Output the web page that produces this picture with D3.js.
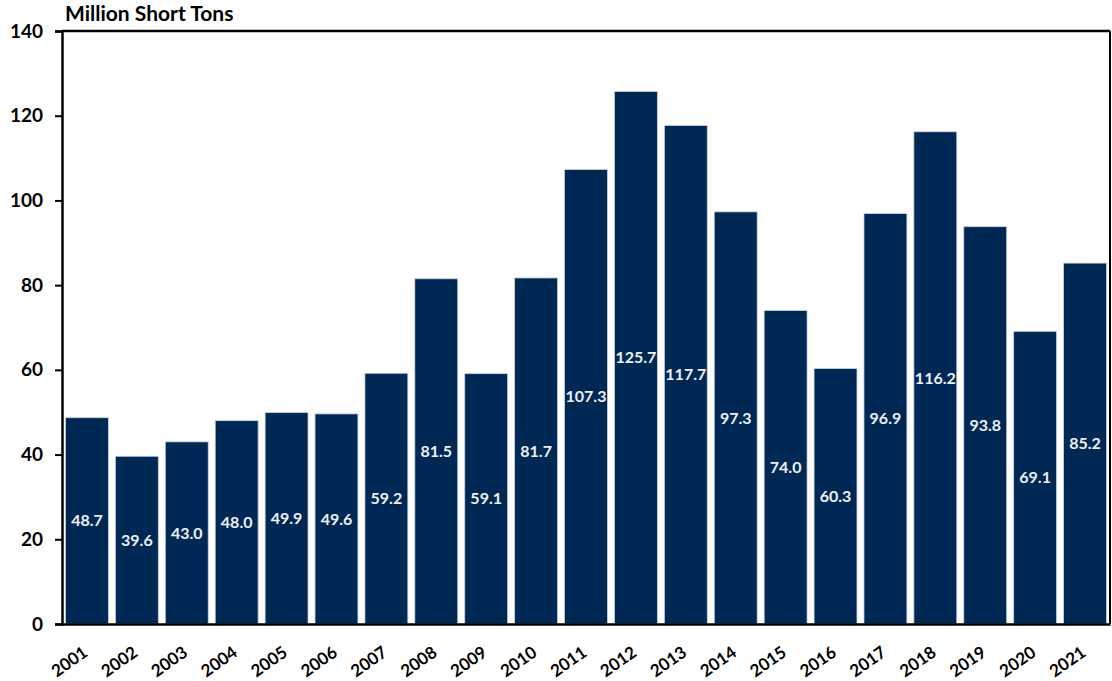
<!DOCTYPE html>
<html>
<head>
<meta charset="utf-8">
<script src="https://cdn.jsdelivr.net/npm/d3@7"></script>
<style>
  body { margin: 0; background: #fff; }
  text { font-family: Lato, "Open Sans", sans-serif; font-weight: bold; }
</style>
</head>
<body>
<div id="chart"></div>
<script>
// Data
const years = ["2001","2002","2003","2004","2005","2006","2007","2008","2009","2010","2011",
               "2012","2013","2014","2015","2016","2017","2018","2019","2020","2021"];
const values = [48.7, 39.6, 43.0, 48.0, 49.9, 49.6, 59.2, 81.5, 59.1, 81.7, 107.3,
                125.7, 117.7, 97.3, 74.0, 60.3, 96.9, 116.2, 93.8, 69.1, 85.2];
const yTicks = [0, 20, 40, 60, 80, 100, 120, 140];

const width = 1112, height = 681;
const margin = {top: 31, right: 2, bottom: 57, left: 62};
const chartWidth = width - margin.left - margin.right;
const chartHeight = height - margin.top - margin.bottom;

let svg = d3.select("#chart")
    .append("svg")
    .attr("width", width)
    .attr("height", height)
    .append("g")
    .attr("transform", "translate(" + margin.left + "," + margin.top + ")");

let x = d3.scaleBand()
    .domain(years)
    .range([0, chartWidth])
    .paddingInner(0.14)
    .paddingOuter(0.07);

let y = d3.scaleLinear()
    .domain([0, 140])
    .range([chartHeight, 0]);

// bars
svg.selectAll(".bar")
    .data(values)
    .enter()
    .append("rect")
    .attr("class", "bar")
    .attr("x", (d, i) => x(years[i]))
    .attr("y", d => y(d))
    .attr("width", x.bandwidth())
    .attr("height", d => chartHeight - y(d))
    .attr("fill", "#002855")
    .attr("stroke", "#c9d1dc")
    .attr("stroke-width", 0.8);

// value labels in middle of bar
svg.selectAll(".val")
    .data(values)
    .enter()
    .append("text")
    .attr("x", (d, i) => x(years[i]) + x.bandwidth() / 2)
    .attr("y", d => (y(d) + chartHeight) / 2)
    .attr("dy", "0.35em")
    .attr("text-anchor", "middle")
    .attr("fill", "#eef0f4")
    .style("font-size", "16px")
    .text(d => d.toFixed(1));

// frame top + right
svg.append("line")
    .attr("x1", 0).attr("x2", chartWidth)
    .attr("y1", 0).attr("y2", 0)
    .attr("stroke", "#000").attr("stroke-width", 2.5);
svg.append("line")
    .attr("x1", chartWidth).attr("x2", chartWidth)
    .attr("y1", 0).attr("y2", chartHeight)
    .attr("stroke", "#000").attr("stroke-width", 2);

// y axis
let yAxis = svg.append("g")
    .call(d3.axisLeft(y).tickValues(yTicks).tickSize(7).tickPadding(12));
yAxis.select(".domain").attr("stroke-width", 2.5);
yAxis.selectAll(".tick line").attr("stroke-width", 2);
yAxis.selectAll("text")
    .attr("fill", "#000")
    .style("font-size", "19px")
    .style("font-family", "Lato, 'Open Sans', sans-serif")
    .style("font-weight", "bold");

// x axis, rotated year labels
let xAxis = svg.append("g")
    .attr("transform", "translate(0," + chartHeight + ")")
    .call(d3.axisBottom(x).tickSize(0).tickPadding(0));
xAxis.select(".domain").attr("stroke-width", 2.5);
xAxis.selectAll("text")
    .attr("fill", "#000")
    .style("font-size", "17px")
    .style("font-family", "Lato, 'Open Sans', sans-serif")
    .style("font-weight", "bold")
    .style("text-anchor", "end")
    .attr("x", 0)
    .attr("y", 0)
    .attr("dy", 0)
    .attr("transform", "translate(2,31) rotate(-35)");

// axis title
svg.append("text")
    .attr("x", 3)
    .attr("y", -10)
    .attr("fill", "#000")
    .style("font-size", "21px")
    .text("Million Short Tons");
</script>
</body>
</html>
